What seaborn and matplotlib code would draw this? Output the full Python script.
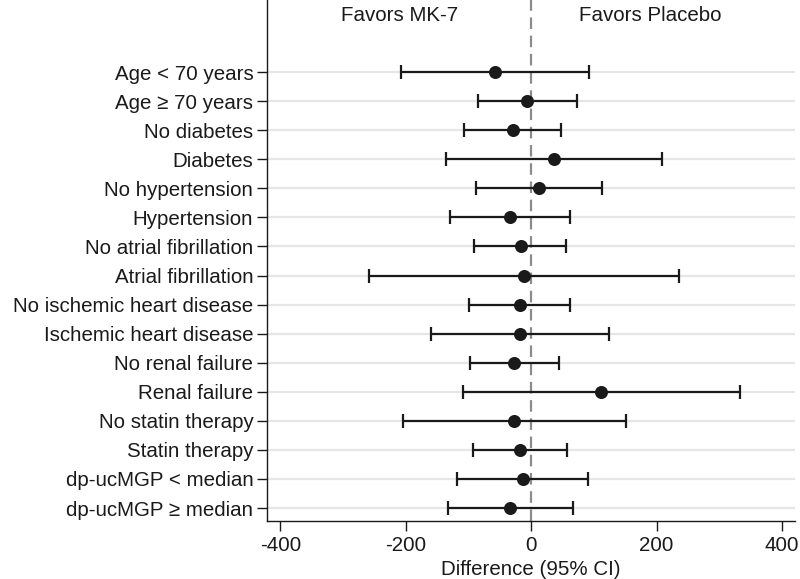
import matplotlib
matplotlib.use("Agg")
import matplotlib.pyplot as plt
import seaborn as sns
import pandas as pd

subgroups = [
    "Age < 70 years", "Age ≥ 70 years", "No diabetes", "Diabetes",
    "No hypertension", "Hypertension", "No atrial fibrillation", "Atrial fibrillation",
    "No ischemic heart disease", "Ischemic heart disease", "No renal failure", "Renal failure",
    "No statin therapy", "Statin therapy", "dp-ucMGP < median", "dp-ucMGP ≥ median",
]
estimate = [-57.6, -6.0, -29.6, 36.8, 12.6, -33.5, -17.0, -11.5,
            -18.1, -17.6, -26.9, 111.4, -26.9, -17.6, -13.7, -33.5]
ci_low = [-207.4, -85.6, -106.5, -136.1, -87.8, -129.0, -90.5, -259.0,
          -98.8, -160.2, -97.7, -109.2, -205.2, -92.2, -118.5, -133.3]
ci_high = [92.7, 72.4, 47.7, 209.1, 113.0, 61.5, 54.9, 236.0,
           61.5, 124.6, 45.0, 333.1, 151.5, 56.5, 91.1, 66.4]
x_ticks = [-400, -200, 0, 200, 400]

df = pd.DataFrame({"subgroup": subgroups, "est": estimate, "lo": ci_low, "hi": ci_high})

sns.set_theme(style="white")
plt.rcParams["font.family"] = ["Liberation Sans", "DejaVu Sans"]
ink = "#1a1a1a"
fs = 14.8

fig = plt.figure(figsize=(8, 5.79), dpi=100)
ax = fig.add_axes([0.334, 0.1, 0.66, 0.9])

ypos = list(range(len(subgroups)))
for y in ypos:
    ax.axhline(y, color="#e6e6e6", lw=1.6, zorder=0)
ax.axvline(0, color="#8c8c8c", lw=1.6, ls=(0, (5.2, 3.0)), zorder=1)

ax.errorbar(df["est"], ypos,
            xerr=[df["est"] - df["lo"], df["hi"] - df["est"]],
            fmt="none", ecolor=ink, elinewidth=1.6, capsize=5, capthick=1.6, zorder=2)
sns.scatterplot(data=df.assign(y=ypos), x="est", y="y", ax=ax, color=ink,
                s=88, edgecolor=ink, linewidth=0, zorder=3, legend=False)

ax.set_ylim(15.45, -2.48)
ax.set_xlim(-421, 421)
ax.set_yticks(ypos)
ax.set_yticklabels(subgroups)
ax.set_xticks(x_ticks)
ax.set_xticklabels([str(v) for v in x_ticks])
ax.set_ylabel("")
ax.set_xlabel("Difference (95% CI)", fontsize=fs, color=ink, labelpad=3)

for side in ["top", "right"]:
    ax.spines[side].set_visible(False)
for side in ["left", "bottom"]:
    ax.spines[side].set_color(ink)
    ax.spines[side].set_linewidth(1.0)
ax.tick_params(axis="both", labelsize=fs, colors=ink, length=7, width=1.0,
               direction="out", bottom=True, left=True)
ax.tick_params(axis="y", pad=3)
ax.tick_params(axis="x", pad=4)
ax.grid(False)

ax.text(-210, -1.95, "Favors MK-7", ha="center", va="center", fontsize=fs, color=ink)
ax.text(190, -1.95, "Favors Placebo", ha="center", va="center", fontsize=fs, color=ink)

fig.savefig("out.png", dpi=100)
